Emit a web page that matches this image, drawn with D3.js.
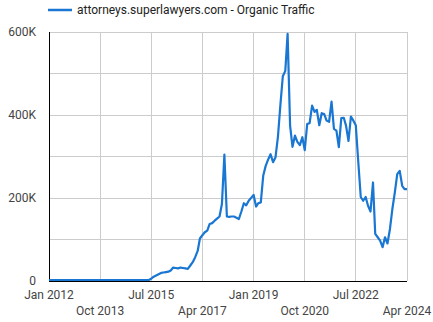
<!DOCTYPE html>
<html><head><meta charset="utf-8">
<script src="https://cdn.jsdelivr.net/npm/d3@7"></script>
<style>body{margin:0;background:#fff;}svg{display:block;font-family:Roboto,"Noto Sans",sans-serif;}</style>
</head><body><svg id="c" width="433" height="322"></svg>
<script>
const seriesName = "attorneys.superlawyers.com - Organic Traffic";
const startMonth = "2012-01";
// monthly organic traffic, Jan 2012 .. Apr 2024
const traffic = [
  0,0,0,0,0,0,0,0,0,0,0,0,
  0,0,0,0,0,0,0,0,0,0,0,0,
  0,0,0,0,0,0,0,0,0,0,0,0,
  0,0,0,0,0,0,3000,8000,11000,14000,17000,18000,
  19000,20000,23000,30000,29000,28000,30000,29000,28000,27000,35000,43000,
  55000,70000,100000,108000,115000,119000,135000,137000,143000,148000,153000,183000,
  302000,153000,152000,153000,153000,150000,147000,165000,185000,180000,191000,198000,
  205000,177000,185000,187000,251000,275000,290000,303000,284000,295000,345000,420000,
  491000,504000,593000,372000,321000,348000,333000,325000,344000,313000,376000,378000,
  420000,405000,410000,373000,402000,400000,384000,381000,430000,364000,360000,320000,
  390000,391000,372000,335000,394000,384000,373000,285000,200000,191000,200000,179000,
  165000,235000,111000,103000,95000,79000,103000,88000,123000,171000,211000,255000,
  263000,227000,219000,219000
];
const xTickLabels = ["Jan 2012","Oct 2013","Jul 2015","Apr 2017","Jan 2019","Oct 2020","Jul 2022","Apr 2024"];
const yTicks = [0,100000,200000,300000,400000,500000,600000];
const yTickLabels = ["0","","200K","","400K","","600K"];

const parse = d3.timeParse("%Y-%m");
const fmtIn = d3.timeParse("%b %Y");
const t0 = parse(startMonth);
const data = traffic.map((v,i)=>({date: d3.timeMonth.offset(t0,i), value:v}));
const tickDates = xTickLabels.map(s=>fmtIn(s));

const svg = d3.select("#c");
const m = {l:49, r:26, t:32, b:41};
const W = 433, H = 322;
const x = d3.scaleTime().domain([tickDates[0], tickDates[tickDates.length-1]]).range([m.l, W-m.r]);
const y = d3.scaleLinear().domain([0,600000]).range([H-m.b, m.t]);

// gridlines
const g = svg.append("g");
g.selectAll("line.h").data(yTicks.slice(1)).join("line")
  .attr("x1",m.l).attr("x2",W-m.r).attr("y1",d=>y(d)).attr("y2",d=>y(d))
  .attr("stroke","#cccccc").attr("stroke-width",1).attr("shape-rendering","crispEdges");
g.selectAll("line.v").data(tickDates.slice(1)).join("line")
  .attr("x1",d=>x(d)).attr("x2",d=>x(d)).attr("y1",m.t).attr("y2",H-m.b)
  .attr("stroke","#cccccc").attr("stroke-width",1).attr("shape-rendering","crispEdges");

// y axis labels
svg.append("g").selectAll("text").data(yTicks).join("text")
  .attr("x",36).attr("y",d=>y(d)+4).attr("text-anchor","end")
  .attr("font-size",12).attr("fill","#444")
  .text((d,i)=>yTickLabels[i]);

// x axis labels, alternating rows
svg.append("g").selectAll("text").data(tickDates).join("text")
  .attr("x",d=>x(d)).attr("y",(d,i)=> i%2===0 ? 299 : 315).attr("text-anchor","middle")
  .attr("font-size",12).attr("fill","#444")
  .text((d,i)=>xTickLabels[i]);

// axis lines
svg.append("line").attr("x1",m.l).attr("x2",m.l).attr("y1",m.t).attr("y2",H-m.b+0.5)
  .attr("stroke","#000").attr("stroke-width",1).attr("shape-rendering","crispEdges");
svg.append("line").attr("x1",m.l).attr("x2",W-m.r).attr("y1",H-m.b).attr("y2",H-m.b)
  .attr("stroke","#000").attr("stroke-width",1).attr("shape-rendering","crispEdges");

// line
const line = d3.line().x(d=>x(d.date)).y(d=>y(d.value)-1);
svg.append("path").datum(data).attr("d",line)
  .attr("fill","none").attr("stroke","#1976d2").attr("stroke-width",2.2)
  .attr("stroke-linejoin","round");

// legend
const lg = svg.append("g");
lg.append("line").attr("x1",48).attr("x2",72).attr("y1",10).attr("y2",10)
  .attr("stroke","#1976d2").attr("stroke-width",2.5);
lg.append("text").attr("x",77).attr("y",14).attr("font-size",12).attr("fill","#222").text(seriesName);
</script></body></html>
